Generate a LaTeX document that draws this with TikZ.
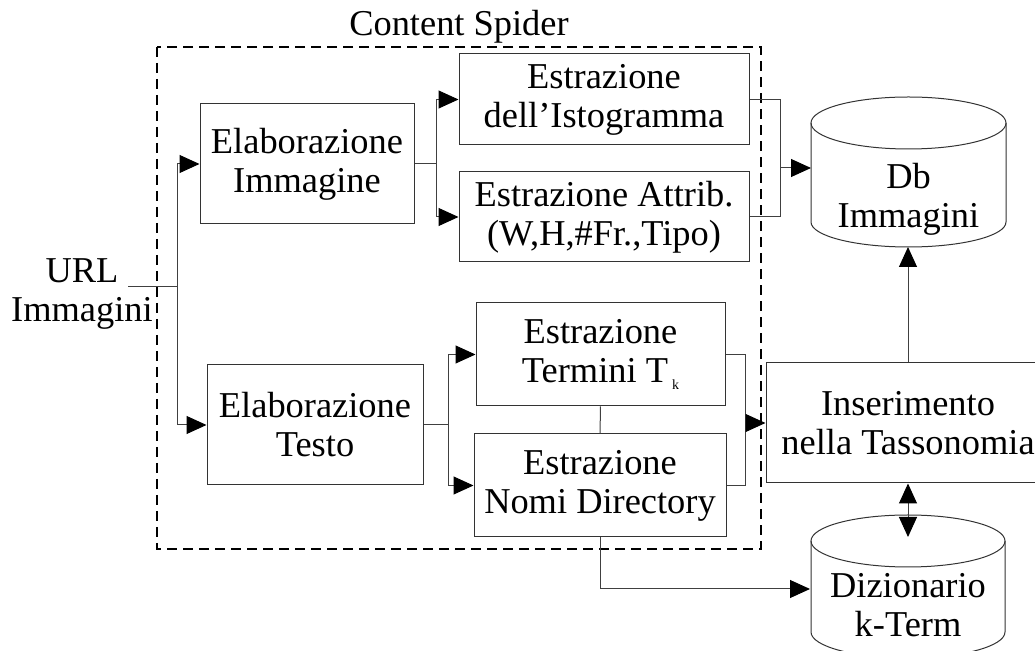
\documentclass[tikz,border=0pt]{standalone}
\usepackage{fontspec}
\setmainfont{Liberation Serif}
\usetikzlibrary{arrows.meta}

\begin{document}
\begin{tikzpicture}[x=0.5pt, y=-0.5pt,
    every node/.style={font=\fontsize{18.2}{19.5}\selectfont, align=center, inner sep=0pt},
    box/.style={draw=black!80, line width=0.5pt},
    link/.style={draw=black!75, line width=0.5pt},
    arr/.style={link, -{Triangle[length=10pt, width=9pt, color=black]}},
    arrboth/.style={link, {Triangle[length=10pt, width=9pt, color=black]}-{Triangle[length=10pt, width=9pt, color=black]}}]
    % page size of the reference
    \useasboundingbox (0,0) rectangle (1035,651);

    % Content Spider frame
    \draw[dash pattern=on 5pt off 3pt, line width=1pt] (157,47) rectangle (761,549);
    \node (spider) [anchor=base] at (459,36) {Content Spider};

    % processing blocks
    \node (url) at (82,294) {URL\\Immagini};
    \node (elabimm) [box, minimum width=107pt, minimum height=60pt] at (307,164) {Elaborazione\\Immagine};
    \node (elabtxt) [box, minimum width=108pt, minimum height=60pt] at (315,425) {Elaborazione\\Testo};
    \node (isto) [box, minimum width=145pt, minimum height=45.5pt] at (604,99.5) {Estrazione\\dell’Istogramma};
    \node (attr) [box, minimum width=145pt, minimum height=45pt] at (604,217) {Estrazione Attrib.\\(W,H,\#Fr.,Tipo)};
    \node (termini) [box, minimum width=124.5pt, minimum height=51.5pt] at (600.5,354.5) {Estrazione\\Termini T\hspace{2pt}\raisebox{-3.5pt}{\fontsize{7}{8}\selectfont k}};
    \node (nomi) [box, minimum width=126pt, minimum height=51.5pt] at (600,485.5) {Estrazione\\Nomi Directory};
    \node (ins) [box, minimum width=142pt, minimum height=60pt] at (908,423) {Inserimento\\nella Tassonomia};

    % databases
    \draw[box] (811,123) -- (811,222) arc[start angle=180, end angle=0, x radius=97.5, y radius=25] -- (1006,123);
    \draw[box] (908.5,123) ellipse[x radius=97.5, y radius=26];
    \node (db) at (908.5,199) {Db\\Immagini};
    \draw[box] (811,541) -- (811,632) arc[start angle=180, end angle=0, x radius=97, y radius=26] -- (1005,541);
    \draw[box] (908,541) ellipse[x radius=97, y radius=26];
    \node (diz) at (908,605.5) {Dizionario\\k-Term};

    % junction points
    \coordinate (urlout) at (128,287);
    \coordinate (jurl) at (177,287);
    \coordinate (jimm) at (436,164);
    \coordinate (jtxt) at (448,425);
    \coordinate (jdb) at (780,168);
    \coordinate (dbin) at (811,168);
    \coordinate (jtax) at (745,423);
    \coordinate (dbbot) at (908,247);
    \coordinate (dizin) at (908,537);
    \coordinate (dizw) at (810,589);

    % connectors
    \draw[link] (urlout) -- (jurl);
    \draw[arr] (jurl) |- (elabimm);
    \draw[arr] (jurl) |- (elabtxt);
    \draw[link] (elabimm) -- (jimm);
    \draw[arr] (jimm) |- (isto);
    \draw[arr] (jimm) |- (attr);
    \draw[link] (elabtxt) -- (jtxt);
    \draw[arr] (jtxt) |- (termini);
    \draw[arr] (jtxt) |- (nomi);
    \draw[link] (termini) -- (nomi);
    \draw[link] (isto) -| (jdb);
    \draw[link] (attr) -| (jdb);
    \draw[arr] (jdb) -- (dbin);
    \draw[link] (termini) -| (jtax);
    \draw[link] (nomi) -| (jtax);
    \draw[arr] (jtax) -- (ins);
    \draw[arr] (ins) -- (dbbot);
    \draw[arrboth] (ins) -- (dizin);
    \draw[arr] (nomi) |- (dizw);
\end{tikzpicture}
\end{document}
